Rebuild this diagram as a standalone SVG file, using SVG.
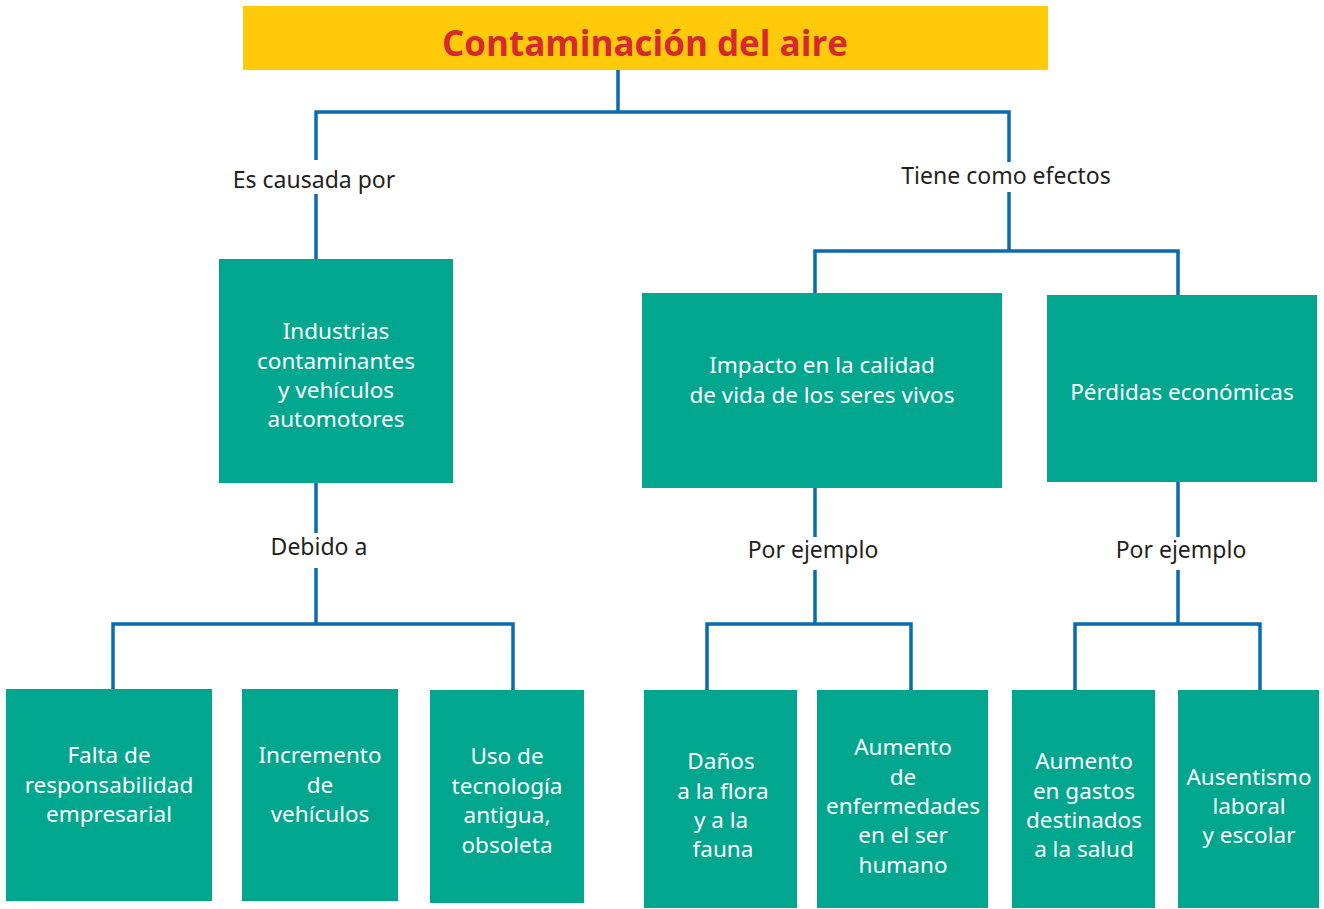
<svg xmlns="http://www.w3.org/2000/svg" width="1324" height="909" viewBox="0 0 1324 909">
<style>
.box{fill:#00A78E}
.t{font-family:"Noto Sans","Liberation Sans",sans-serif;font-size:22.5px;fill:#ffffff;text-anchor:middle}
.lbl{font-family:"Noto Sans","Liberation Sans",sans-serif;font-size:23px;fill:#231F20;text-anchor:middle}
.c{fill:none;stroke:#0A6BAF;stroke-width:3.5;stroke-linejoin:miter}
</style>
<rect width="1324" height="909" fill="#ffffff"/>
<g id="connectors">
<path class="c" d="M618,70 V112 M316,160 V112 H1009 V162"/>
<path class="c" d="M316,194 V259"/>
<path class="c" d="M1009,192 V251 M815,293 V251 H1178 V295"/>
<path class="c" d="M316,483 V533 M316,568 V624 M113,689 V624 H513 V690"/>
<path class="c" d="M815,488 V537 M815,570 V624 M707,690 V624 H911 V690"/>
<path class="c" d="M1178,482 V537 M1178,570 V624 M1075,690 V624 H1260 V690"/>
</g>
<g id="labels">
<text class="lbl" x="314" y="188">Es causada por</text>
<text class="lbl" x="1006" y="184">Tiene como efectos</text>
<text class="lbl" x="319" y="555">Debido a</text>
<text class="lbl" x="813" y="558">Por ejemplo</text>
<text class="lbl" x="1181" y="558">Por ejemplo</text>
</g>
<g id="title">
<rect x="243" y="6" width="805" height="64" fill="#FECA0A"/>
<text x="645" y="56" font-family="'Open Sans','Noto Sans',sans-serif" font-weight="bold" font-size="35" fill="#D7282F" text-anchor="middle">Contaminación del aire</text>
</g>
<g id="industrias">
<rect class="box" x="219" y="259" width="234" height="224"/>
<text class="t" x="336" y="339">Industrias</text>
<text class="t" x="336" y="369">contaminantes</text>
<text class="t" x="336" y="398">y vehículos</text>
<text class="t" x="336" y="427">automotores</text>
</g>
<g id="impacto">
<rect class="box" x="642" y="293" width="360" height="195"/>
<text class="t" x="822" y="373">Impacto en la calidad</text>
<text class="t" x="822" y="403">de vida de los seres vivos</text>
</g>
<g id="perdidas">
<rect class="box" x="1047" y="295" width="270" height="187"/>
<text class="t" x="1182" y="400">Pérdidas económicas</text>
</g>
<g id="falta">
<rect class="box" x="6" y="689" width="206" height="212"/>
<text class="t" x="109" y="763">Falta de</text>
<text class="t" x="109" y="793">responsabilidad</text>
<text class="t" x="109" y="822">empresarial</text>
</g>
<g id="incremento">
<rect class="box" x="242" y="689" width="156" height="212"/>
<text class="t" x="320" y="763">Incremento</text>
<text class="t" x="320" y="793">de</text>
<text class="t" x="320" y="822">vehículos</text>
</g>
<g id="uso">
<rect class="box" x="430" y="690" width="154" height="213"/>
<text class="t" x="507" y="764">Uso de</text>
<text class="t" x="507" y="794">tecnología</text>
<text class="t" x="507" y="823">antigua,</text>
<text class="t" x="507" y="853">obsoleta</text>
</g>
<g id="danos">
<rect class="box" x="644" y="690" width="153" height="218"/>
<text class="t" x="721" y="769">Daños</text>
<text class="t" x="723" y="799">a la flora</text>
<text class="t" x="721" y="828">y a la</text>
<text class="t" x="723" y="857">fauna</text>
</g>
<g id="enfermedades">
<rect class="box" x="817" y="690" width="171" height="218"/>
<text class="t" x="903" y="755">Aumento</text>
<text class="t" x="903" y="785">de</text>
<text class="t" x="903" y="814">enfermedades</text>
<text class="t" x="903" y="843">en el ser</text>
<text class="t" x="903" y="873">humano</text>
</g>
<g id="gastos">
<rect class="box" x="1012" y="690" width="143" height="218"/>
<text class="t" x="1084" y="769">Aumento</text>
<text class="t" x="1084" y="799">en gastos</text>
<text class="t" x="1084" y="828">destinados</text>
<text class="t" x="1084" y="857">a la salud</text>
</g>
<g id="ausentismo">
<rect class="box" x="1178" y="690" width="141" height="218"/>
<text class="t" x="1249" y="785">Ausentismo</text>
<text class="t" x="1249" y="814">laboral</text>
<text class="t" x="1249" y="843">y escolar</text>
</g>
</svg>
